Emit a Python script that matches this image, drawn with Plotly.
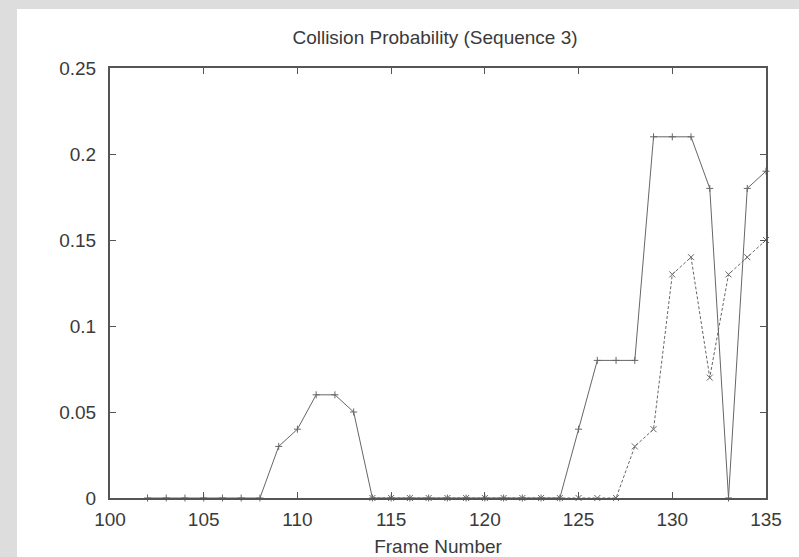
import plotly.graph_objects as go

frames_a = list(range(102, 136))
prob_a = [0, 0, 0, 0, 0, 0, 0, 0.03, 0.04, 0.06, 0.06, 0.05, 0,
          0, 0, 0, 0, 0, 0, 0, 0, 0, 0, 0.04, 0.08, 0.08, 0.08,
          0.21, 0.21, 0.21, 0.18, 0, 0.18, 0.19]

frames_b = list(range(114, 136))
prob_b = [0, 0, 0, 0, 0, 0, 0, 0, 0, 0, 0, 0, 0, 0,
          0.03, 0.04, 0.13, 0.14, 0.07, 0.13, 0.14, 0.15]

x_ticks = [100, 105, 110, 115, 120, 125, 130, 135]
y_ticks = [0, 0.05, 0.1, 0.15, 0.2, 0.25]
y_tick_text = ["0", "0.05", "0.1", "0.15", "0.2", "0.25"]

W, H = 799, 557
L, R, T, B = 110, 33, 68, 59
pw, ph = W - L - R, H - T - B

fig = go.Figure()
fig.add_trace(go.Scatter(
    x=frames_a, y=prob_a, mode="lines+markers",
    line=dict(color="#666666", width=1),
    marker=dict(symbol="cross-thin-open", size=5, line=dict(color="#555555", width=1)),
    showlegend=False, cliponaxis=False))
fig.add_trace(go.Scatter(
    x=frames_b, y=prob_b, mode="lines+markers",
    line=dict(color="#666666", width=1, dash="3px,2px"),
    marker=dict(symbol="x-thin-open", size=6, line=dict(color="#555555", width=1)),
    showlegend=False, cliponaxis=False))

# white page panel
fig.add_shape(type="rect", xref="paper", yref="paper",
              x0=(17 - L) / pw, x1=(W - L) / pw + 0.01,
              y0=-(B + 2) / ph, y1=(H - B - 9) / ph,
              fillcolor="white", line=dict(width=0), layer="below")

font = dict(family="Liberation Sans, Arial, sans-serif", size=19, color="#3a3a3a")
fig.update_layout(
    width=W, height=H,
    margin=dict(l=L, r=R, t=T, b=B),
    paper_bgcolor="#dddddd", plot_bgcolor="white",
    font=font,
    title=dict(text="Collision Probability (Sequence 3)", x=435 / W,
               xanchor="center", y=1 - 37 / H, yanchor="middle",
               font=font),
    xaxis=dict(range=[100, 135], tickvals=x_ticks, ticks="inside", ticklen=6,
               tickcolor="#555555", tickwidth=1, showline=True, linecolor="#555555",
               linewidth=2, mirror="ticks", showgrid=False, zeroline=False,
               ticklabelstandoff=3, automargin=False,
               title=dict(text="Frame Number", standoff=12, font=font)),
    yaxis=dict(range=[0, 0.25], tickvals=y_ticks, ticktext=y_tick_text,
               ticks="inside", ticklen=6, tickcolor="#555555", tickwidth=1,
               showline=True, linecolor="#555555", linewidth=2, mirror="ticks",
               showgrid=False, zeroline=False, ticklabelstandoff=8, automargin=False),
)
fig.write_html("out.html")
